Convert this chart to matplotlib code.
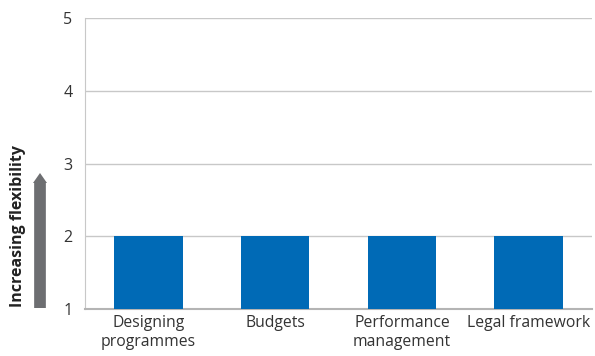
import numpy as np
import matplotlib
matplotlib.use("Agg")
import matplotlib.pyplot as plt
from matplotlib.patches import FancyArrow

plt.rcParams['font.family'] = ['Open Sans', 'DejaVu Sans']

categories = ['Designing\nprogrammes', 'Budgets', 'Performance\nmanagement', 'Legal framework']
scores = [2, 2, 2, 2]
y_ticks = [1, 2, 3, 4, 5]

fig = plt.figure(figsize=(5.95, 3.56), dpi=100)
ax = fig.add_axes([0.143, 0.132, 0.852, 0.817])

x = np.arange(len(categories))
ax.bar(x, scores, width=0.54, color='#006ab6', zorder=3)

ax.set_xlim(-0.5, len(categories) - 0.5)
ax.set_ylim(1, 5)
ax.set_yticks(y_ticks)
ax.set_xticks(x)
ax.set_xticklabels(categories, fontsize=11.3, color='#333333', linespacing=1.3)
ax.tick_params(axis='y', length=0, pad=9, labelsize=11.5, labelcolor='#333333')
ax.tick_params(axis='x', length=0, pad=4)
ax.grid(axis='y', color='#c8c8c8', linewidth=1, zorder=0)

for side in ['top', 'right']:
    ax.spines[side].set_visible(False)
ax.spines['left'].set_color('#c8c8c8')
ax.spines['bottom'].set_color('#b4b4b4')
ax.spines['bottom'].set_linewidth(1.5)

# axis caption with an upward arrow beside it
fig.text(18 / 595, 1 - 226 / 356, 'Increasing flexibility', rotation=90,
         ha='center', va='center', fontsize=11.5, fontweight='bold', color='#222222')
arrow = FancyArrow(40 / 595, 1 - 308 / 356, 0, (308 - 173) / 356, width=7 / 356,
                   head_width=14 / 595, head_length=10 / 356, length_includes_head=True,
                   transform=fig.transFigure, color='#6d6e71', linewidth=0)
fig.patches.append(arrow)

fig.savefig('out.png', dpi=100)
